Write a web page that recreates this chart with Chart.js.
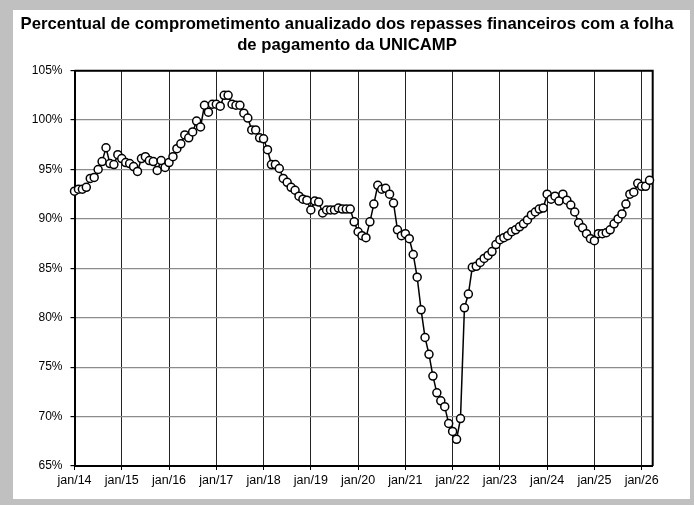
<!DOCTYPE html>
<html>
<head>
<meta charset="utf-8">
<script src="https://cdn.jsdelivr.net/npm/chart.js@4.4.0/dist/chart.umd.min.js"></script>
<style>
  html, body { margin: 0; padding: 0; background: #c0c0c0; }
  #panel { position: absolute; left: 13px; top: 10px; width: 677px; height: 489px; background: #fff; }
  #wrap { position: absolute; left: 0; top: 0; width: 694px; height: 505px; }
</style>
</head>
<body>
<div id="panel"></div>
<div id="wrap"><canvas id="chart" width="694" height="505"></canvas></div>
<script>
// monthly values (%), one array per year
const v2014 = [92.8, 93.0, 93.0, 93.2, 94.1, 94.2, 95.0, 95.8, 97.2, 95.6, 95.5, 96.5];
const v2015 = [96.1, 95.7, 95.6, 95.3, 94.8, 96.1, 96.3, 95.9, 95.8, 94.9, 95.9, 95.2];
const v2016 = [95.7, 96.3, 97.1, 97.6, 98.5, 98.2, 98.8, 99.9, 99.3, 101.5, 100.8, 101.6];
const v2017 = [101.6, 101.4, 102.5, 102.5, 101.6, 101.5, 101.5, 100.7, 100.2, 99.0, 99.0, 98.2];
const v2018 = [98.1, 97.0, 95.5, 95.5, 95.1, 94.1, 93.7, 93.2, 92.9, 92.3, 92.0, 91.9];
const v2019 = [90.9, 91.8, 91.7, 90.6, 90.9, 90.9, 90.9, 91.1, 91.0, 91.0, 91.0, 89.7];
const v2020 = [88.7, 88.3, 88.1, 89.7, 91.5, 93.4, 93.0, 93.1, 92.5, 91.6, 88.9, 88.3];
const v2021 = [88.5, 88.0, 86.4, 84.1, 80.8, 78.0, 76.3, 74.1, 72.4, 71.6, 71.0, 69.3];
const v2022 = [68.5, 67.7, 69.8, 81.0, 82.4, 85.1, 85.2, 85.6, 86.0, 86.3, 86.7, 87.4];
const v2023 = [87.9, 88.1, 88.3, 88.7, 88.9, 89.2, 89.5, 89.9, 90.4, 90.7, 91.0, 91.1];
const v2024 = [92.5, 92.0, 92.3, 91.8, 92.5, 91.9, 91.4, 90.7, 89.6, 89.1, 88.5, 88.0];
const v2025 = [87.8, 88.5, 88.5, 88.6, 88.9, 89.5, 90.0, 90.5, 91.5, 92.5, 92.7, 93.6];
const v2026 = [93.3, 93.3, 93.9];

const xTickLabels = ['jan/14', 'jan/15', 'jan/16', 'jan/17', 'jan/18', 'jan/19', 'jan/20',
                     'jan/21', 'jan/22', 'jan/23', 'jan/24', 'jan/25', 'jan/26'];
const titleLines = ['Percentual de comprometimento anualizado dos repasses financeiros com a folha',
                    'de pagamento da UNICAMP'];

const values = [].concat(v2014, v2015, v2016, v2017, v2018, v2019, v2020,
                         v2021, v2022, v2023, v2024, v2025, v2026);
// month index from jan/14 on the x axis
const points = values.map((v, i) => ({ x: i, y: v }));

const font = '"Liberation Sans", Arial, sans-serif';

// black frame on top and right of the plot, like the original
const framePlugin = {
  id: 'frame',
  beforeDatasetsDraw(chart) {
    const { ctx, chartArea: a } = chart;
    ctx.save();
    ctx.strokeStyle = '#000';
    ctx.lineWidth = 2;
    ctx.beginPath();
    ctx.moveTo(a.left, a.top);
    ctx.lineTo(a.right, a.top);
    ctx.lineTo(a.right, a.bottom);
    ctx.stroke();
    ctx.restore();
  }
};

new Chart(document.getElementById('chart'), {
  type: 'line',
  data: {
    datasets: [{
      data: points,
      borderColor: '#000',
      borderWidth: 1.5,
      pointRadius: 4,
      pointBorderWidth: 1.5,
      pointBackgroundColor: '#fff',
      pointBorderColor: '#000',
      tension: 0,
      clip: false
    }]
  },
  options: {
    responsive: false,
    animation: false,
    layout: { padding: { left: 10.5, right: 10.5, top: 0, bottom: 0 } },
    plugins: {
      legend: { display: false },
      tooltip: { enabled: false },
      title: {
        display: true,
        text: titleLines,
        color: '#000',
        font: { family: font, size: 16.7, weight: 'bold', lineHeight: 1.25 },
        padding: { top: 14.4, bottom: 14.5 }
      }
    },
    scales: {
      x: {
        type: 'linear',
        min: 0,
        max: 146.8,
        afterBuildTicks: s => { s.ticks = xTickLabels.map((t, i) => ({ value: i * 12 })); },
        afterFit: s => { s.height = 39; },
        ticks: {
          autoSkip: false,
          maxRotation: 0,
          padding: 3,
          color: '#000',
          font: { family: font, size: 12.5 },
          callback: v => xTickLabels[Math.round(v / 12)]
        },
        grid: { color: '#222', lineWidth: 1, tickLength: 4, tickColor: '#000' },
        border: { color: '#000', width: 2 }
      },
      y: {
        min: 65,
        max: 105,
        afterFit: s => { s.width = 64; },
        ticks: {
          stepSize: 5,
          padding: 8,
          color: '#000',
          font: { family: font, size: 12 },
          callback: v => v + '%'
        },
        grid: { color: '#8c8c8c', lineWidth: 1.2, tickLength: 4, tickColor: '#000' },
        border: { color: '#000', width: 2 }
      },
      // empty right-hand axis, only keeps the blank margin right of the plot
      yRight: {
        position: 'right',
        afterFit: s => { s.width = 30.8; },
        ticks: { display: false },
        grid: { display: false },
        border: { display: false }
      }
    }
  },
  plugins: [framePlugin]
});
</script>
</body>
</html>
